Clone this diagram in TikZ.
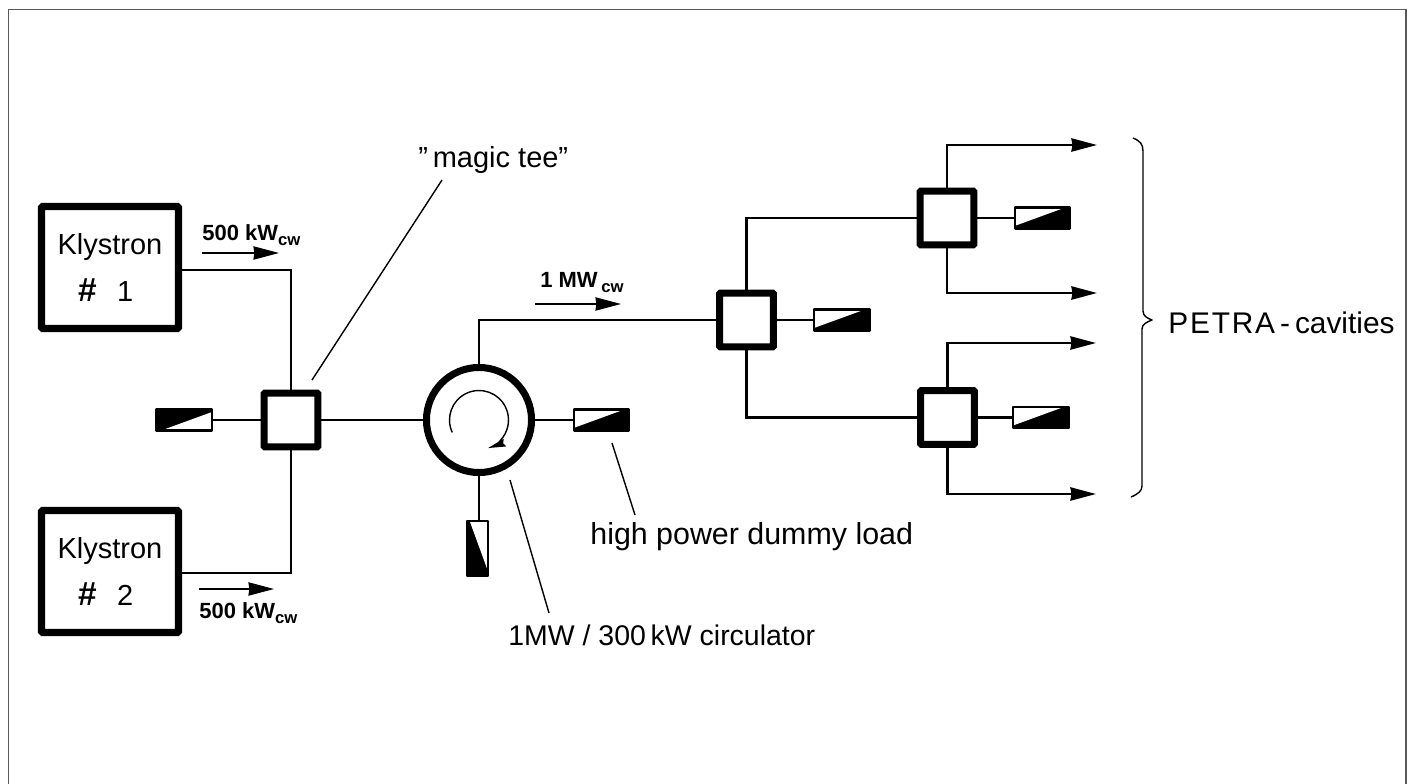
\documentclass[tikz,border=0pt]{standalone}
\usepackage{fontspec}
\setmainfont{Liberation Sans}
\usetikzlibrary{arrows.meta,calc}

\tikzset{
  >={Stealth[length=14.5pt,width=7.5pt,inset=0.5pt]},
  feed/.style={line width=1.4pt},
  leader/.style={line width=0.8pt},
  klybox/.style={draw,line width=4.2pt,rounded corners=0.8pt,minimum width=78pt,minimum height=69.4pt,
    inner sep=0pt,outer sep=0pt,align=center,font=\fontsize{16.5}{26.7}\selectfont},
  teebox/.style={draw,line width=4pt,rounded corners=0.6pt,minimum size=30.7pt,inner sep=0pt,outer sep=0pt},
  dummy/.style={fill=black,minimum width=31.6pt,minimum height=12.2pt,inner sep=0pt,outer sep=0pt},
  lbl/.style={font=\fontsize{17}{20}\selectfont,inner sep=0pt},
  pow/.style={font=\fontsize{12.5}{14}\bfseries\selectfont,inner sep=0pt},
}

% white wedge and outline of a dummy load
\newcommand{\loadwedge}[1]{
  \fill[white] ($(#1.south west)!.08!(#1.south east)$) -- (#1.south east)
    -- ($(#1.south east)!.87!(#1.north east)$) -- cycle;
  \draw[line width=1.4pt,line join=round] (#1.north west) -- (#1.north east)
    -- (#1.south east) -- (#1.south west) -- cycle;
}
\newcommand{\cwsub}{\raisebox{-3pt}{\fontsize{9.5}{10}\selectfont cw}}
\newcommand{\hashsign}{{\fontsize{19}{26.7}\bfseries\selectfont\#}}

\begin{document}
\begin{tikzpicture}[x=0.02cm,y=-0.02cm]
\useasboundingbox (0,0) rectangle (1414,784);

% Frame, open at the bottom
\draw[line width=0.8pt,black!65] (8.5,784) -- (8.5,9.5) -- (1406,9.5) -- (1406,784);

% Klystrons
\node[klybox] (klyA) at (110,267.5) {Klystron\\\hspace{-0.3em}\hashsign\hspace{0.7em}1};
\node[klybox] (klyB) at (110,571.5) {Klystron\\\hspace{-0.3em}\hashsign\hspace{0.7em}2};

% Tees and circulator
\node[teebox] (teeA) at (291,420) {};
\node[teebox] (teeB) at (746.5,320) {};
\node[teebox] (teeC) at (947,218) {};
\node[teebox] (teeD) at (947.5,417.5) {};
\node[circle,draw,line width=4pt,minimum size=59.8pt,inner sep=0pt,outer sep=0pt] (circ) at (479,420) {};

% Dummy loads
\node[dummy] (loadA) at (184,420) {};
\node[dummy,rotate=180] (loadB) at (601.5,420) {};
\node[dummy,rotate=90] (loadC) at (477.5,548.5) {};
\node[dummy,rotate=180] (loadD) at (842,320) {};
\node[dummy,rotate=180] (loadE) at (1042.5,218) {};
\node[dummy,rotate=180] (loadF) at (1041,417.5) {};
\loadwedge{loadA}
\loadwedge{loadB}
\loadwedge{loadC}
\loadwedge{loadD}
\loadwedge{loadE}
\loadwedge{loadF}

% Waveguide runs
\draw[feed] ([yshift=-1.4pt]klyA.east) -| (teeA.north);
\draw[feed] ([yshift=-0.7pt]klyB.east) -| (teeA.south);
\draw[feed] (loadA) -- (teeA);
\draw[feed] (teeA) -- (circ);
\draw[feed] (circ) -- (loadB);
\draw[feed] (circ.south) -- (circ.south |- loadC.east);
\draw[feed] (circ.north) |- (teeB.west);
\draw[feed] (teeB) -- (loadD);
\draw[feed] (teeB.north) |- (teeC.west);
\draw[feed] (teeB.south) |- (teeD.west);
\draw[feed] (teeC) -- (loadE);
\draw[feed] (teeD) -- (loadF);

% Outputs
\coordinate (outA) at (1097,145);
\coordinate (outB) at (1097,293);
\coordinate (outC) at (1096,343);
\coordinate (outD) at (1096,494);
\draw[feed,->] (teeC.north) |- (outA);
\draw[feed,->] (teeC.south) |- (outB);
\draw[feed,->] (teeD.north) |- (outC);
\draw[feed,->] (teeD.south) |- (outD);

% Rotation sense inside the circulator
\draw[line width=0.8pt,-{Stealth[length=10pt,width=4.5pt,inset=1pt]}]
  ($(circ.center)+(155:29.5)$) arc[start angle=155,end angle=432,radius=29.5];

% Power arrows
\coordinate (powAs) at (202,253);
\coordinate (powAe) at (279,253);
\coordinate (powBs) at (199,589);
\coordinate (powBe) at (274,589);
\coordinate (powCs) at (535,304);
\coordinate (powCe) at (621,304);
\draw[line width=1.1pt,->] (powAs) -- (powAe);
\draw[line width=1.1pt,->] (powBs) -- (powBe);
\draw[line width=1.1pt,->] (powCs) -- (powCe);
\node[pow,anchor=base west] (powAtxt) at (202,240) {500 kW\cwsub};
\node[pow,anchor=base west] (powBtxt) at (199,618) {500 kW\cwsub};
\node[pow,anchor=base west] (powCtxt) at (540,287) {1 MW\,\cwsub};

% Labels and their leaders
\node[lbl,font=\fontsize{16.5}{20}\selectfont,anchor=base west] (teeLbl) at (418,168) {"\,magic tee"};
\node[lbl,font=\fontsize{17.3}{20}\selectfont,anchor=base west] (loadLbl) at (590,544) {high power dummy load};
\node[lbl,font=\fontsize{16.2}{20}\selectfont,anchor=base west] (circLbl) at (508,645) {1MW / 300\,kW circulator};
\node[lbl,anchor=base west] (cavLbl) at (1168,333) {{\addfontfeature{LetterSpace=6}PETRA}\,-\,cavities};
\coordinate (teeTip) at (312,380);
\coordinate (loadTip) at (612,443);
\coordinate (circTip) at (510,480);
\draw[leader] (442,180) -- (teeTip);
\draw[leader] (635,515) -- (loadTip);
\draw[leader] (549,613) -- (circTip);

% Brace over the outputs
\draw[leader,line join=round] (1133,138) .. controls (1140,141) and (1143,144) .. (1143,151)
  -- (1143,311) .. controls (1143,316) and (1147,318) .. (1152,320)
  .. controls (1147,322) and (1142,324) .. (1142,329)
  -- (1142,486) .. controls (1142,491) and (1138,494) .. (1131,497);

\end{tikzpicture}
\end{document}
